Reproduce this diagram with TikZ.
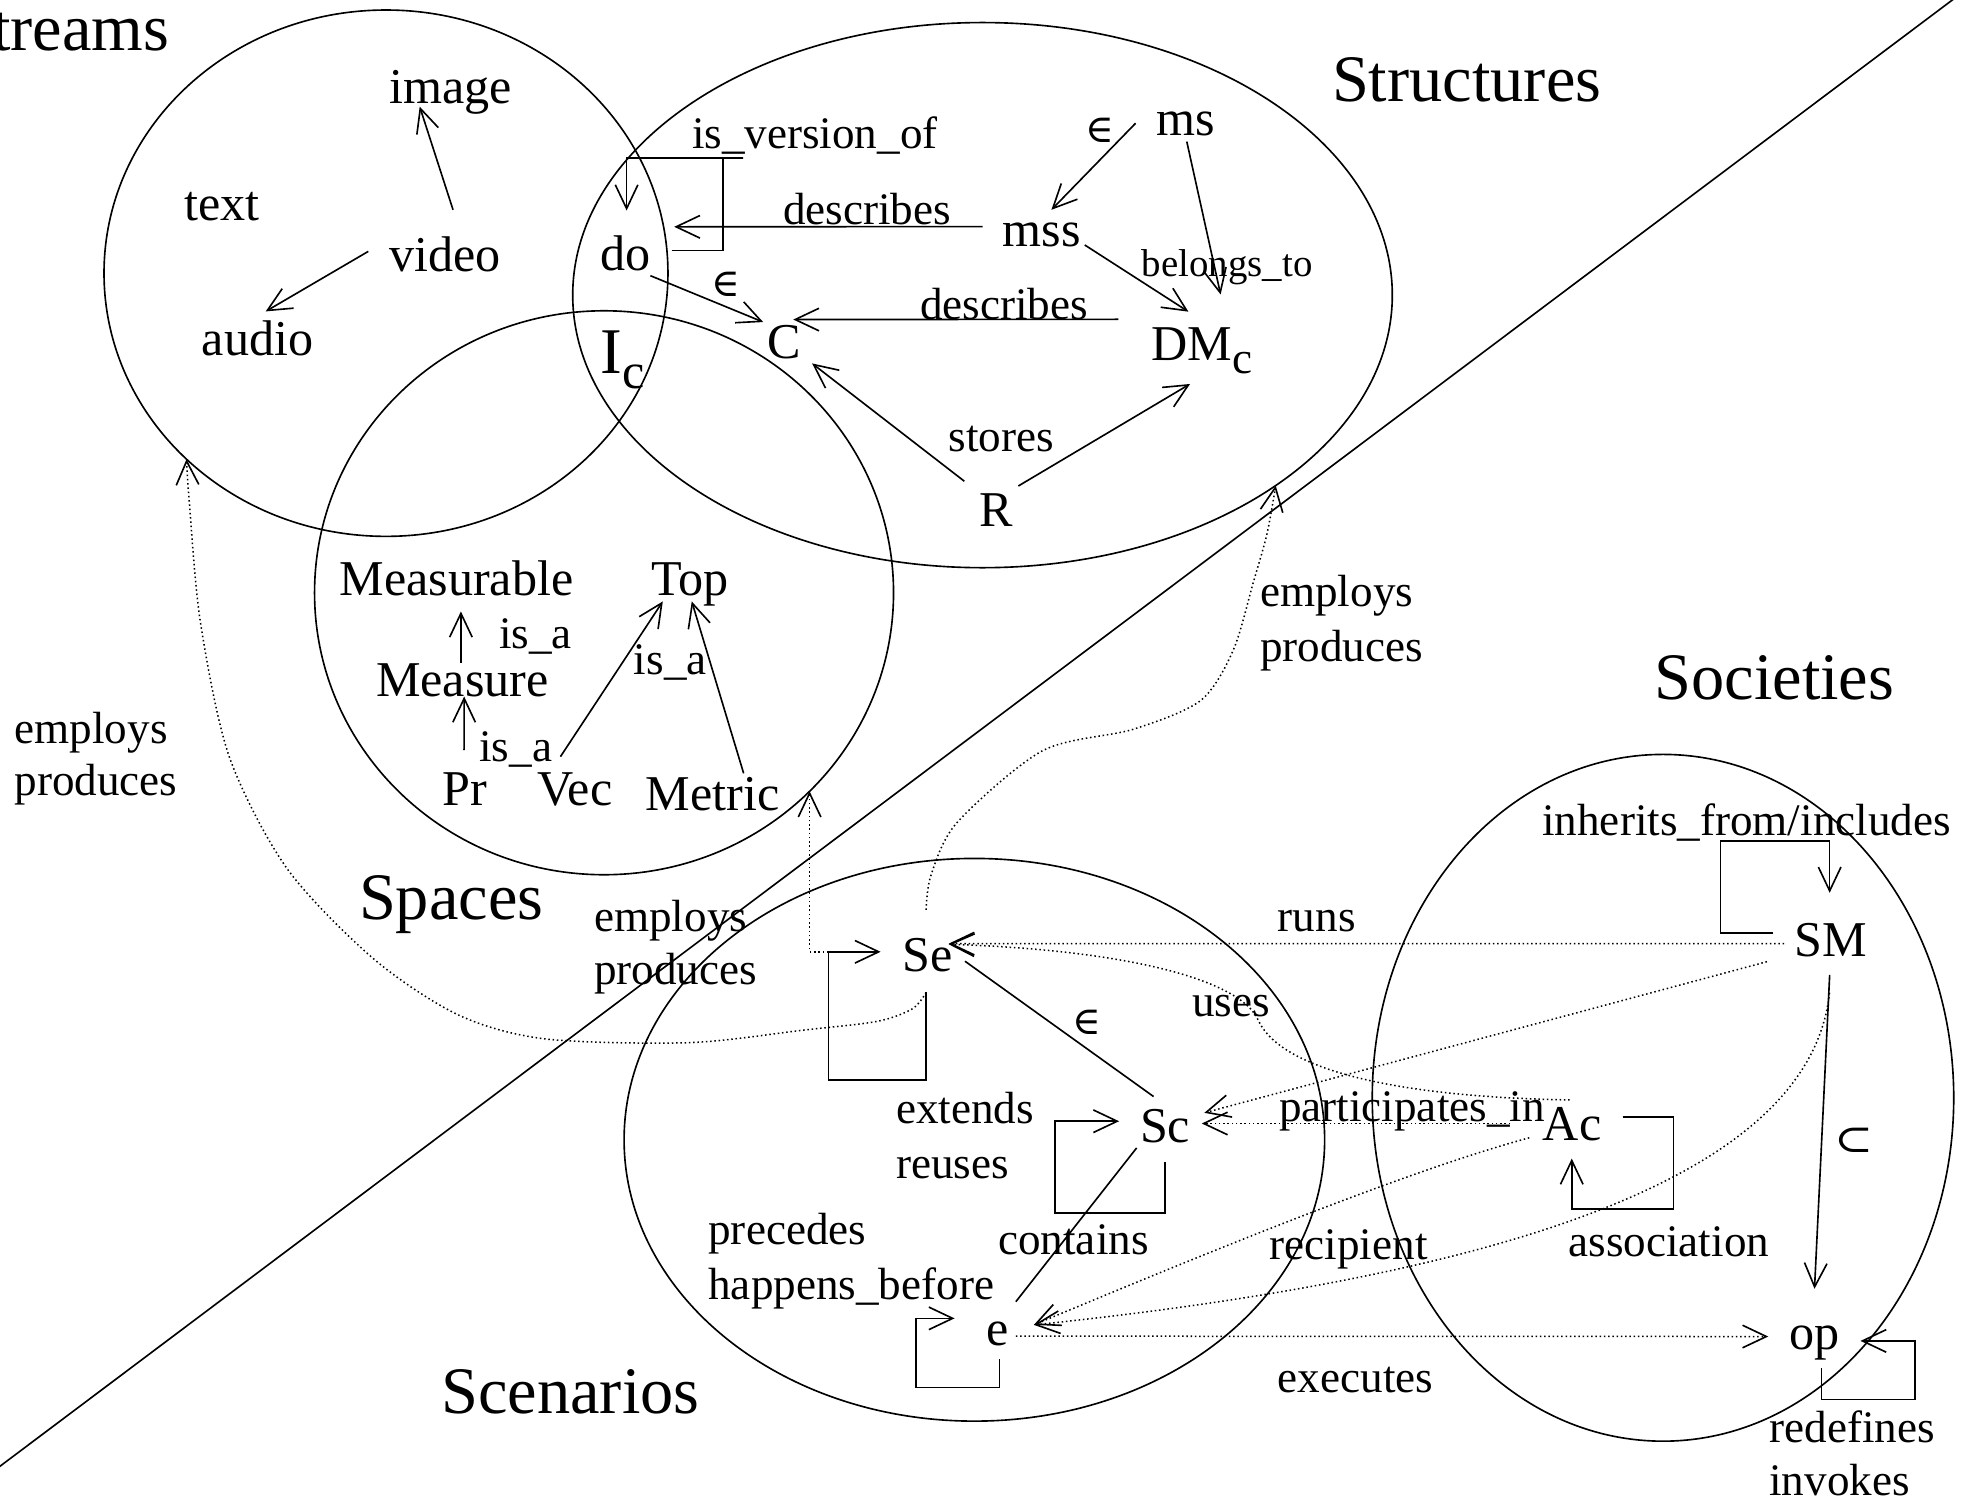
\documentclass[tikz,border=0pt]{standalone}
\usepackage{fontspec}
\setmainfont{Liberation Serif}
\newfontfamily\symfnt{DejaVu Serif}
\usetikzlibrary{arrows.meta,shapes.geometric}
\begin{document}
\begin{tikzpicture}[x=1pt,y=-1pt,
  nd/.style={anchor=base,inner sep=0pt,font=\fontsize{40}{48}\selectfont},
  lb/.style={anchor=base west,inner sep=0pt,font=\fontsize{36}{43}\selectfont},
  ttl/.style={anchor=base west,inner sep=0pt,font=\fontsize{53}{64}\selectfont},
  sym/.style={anchor=center,inner sep=0pt,font=\symfnt\fontsize{31}{31}\selectfont},
  region/.style={draw,ellipse,line width=1.3pt,inner sep=0pt,outer sep=0pt},
  ln/.style={line width=1.3pt},
  arr/.style={ln,-{Straight Barb[length=19pt,width=18pt]}},
  dot/.style={line width=1.2pt,dash pattern=on 1.2pt off 2.2pt},
  darr/.style={dot,-{Straight Barb[length=19pt,width=18pt,line width=1.3pt]}}]
\useasboundingbox (0,0) rectangle (1568,1206);

% regions
\node[region,minimum width=450pt,minimum height=420pt] (streams) at (308,218) {};
\node[region,minimum width=654pt,minimum height=435pt] (structures) at (784,235.5) {};
\node[region,minimum width=462pt,minimum height=450pt] (spaces) at (482,473) {};
\node[region,minimum width=559pt,minimum height=449pt] (scenarios) at (777.5,909.5) {};
\node[region,minimum width=464pt,minimum height=548pt] (societies) at (1327,876) {};
\draw[ln] (-10,1177.5) -- (1568,-7.6);

% titles
\node[ttl,anchor=base east] (tStreams) at (135.4,40) {Streams};
\node[ttl] (tStructures) at (1062.7,81.1) {Structures};
\node[ttl] (tSpaces) at (286.3,734) {Spaces};
\node[ttl] (tSocieties) at (1320,558) {Societies};
\node[ttl] (tScenarios) at (352,1128) {Scenarios};

% nodes
\node[nd] (image) at (359.8,82.5) {image};
\node[nd] (text) at (177.2,175.6) {text};
\node[nd] (video) at (355.3,216.8) {video};
\node[nd] (audio) at (205.6,283.3) {audio};
\node[nd] (do) at (499.4,215.5) {do};
\node[nd,font=\fontsize{52}{60}\selectfont] (Ic) at (497,298) {I\raisebox{-12pt}{\fontsize{40}{48}\selectfont c}};
\node[nd] (C) at (626,286) {C};
\node[nd] (ms) at (946.5,108.4) {ms};
\node[nd] (mss) at (831.3,197) {mss};
\node[nd] (DMc) at (959,288) {DM\raisebox{-10pt}{\fontsize{36}{44}\selectfont c}};
\node[nd] (R) at (795,420) {R};
\node[nd] (Measurable) at (364.3,474.8) {Measurable};
\node[nd] (Top) at (550.8,474.8) {Top};
\node[nd] (Measure) at (369,555.9) {Measure};
\node[nd] (Pr) at (370.9,642.4) {Pr};
\node[nd] (Vec) at (458.6,642.4) {Vec};
\node[nd] (Metric) at (568.5,646.4) {Metric};
\node[nd] (Se) at (740.3,775.5) {Se};
\node[nd] (Sc) at (929.7,912) {Sc};
\node[nd] (e) at (795.7,1073.7) {e};
\node[nd] (Ac) at (1254.5,910) {Ac};
\node[nd] (SM) at (1461,763.2) {SM};
\node[nd] (op) at (1448,1077) {op};

% edge labels
\node[lb] (lIsVersion) at (552,118.4) {is\_version\_of};
\node[lb] (lDescr1) at (624.8,179.5) {describes};
\node[lb] (lDescr2) at (734,255.3) {describes};
\node[lb,font=\fontsize{31}{37}\selectfont] (lBelongs) at (911,220.8) {belongs\_to};
\node[lb] (lStores) at (756.7,360.4) {stores};
\node[sym] (lIn1) at (878,104) {∈};
\node[sym] (lIn2) at (579.5,227) {∈};
\node[sym] (lIn3) at (867,816) {∈};
\node[sym] (lSub) at (1479.5,910) {\scalebox{1.2}[1]{⊂}};
\node[lb] (lIsA1) at (398.2,517.3) {is\_a};
\node[lb] (lIsA2) at (505.7,538.6) {is\_a};
\node[lb] (lIsA3) at (382.3,607.8) {is\_a};
\node[lb] (lEmpL1) at (11.5,593.5) {employs};
\node[lb] (lEmpL2) at (11.5,634.4) {produces};
\node[lb] (lEmpM1) at (474,743) {employs};
\node[lb] (lEmpM2) at (474,785.8) {produces};
\node[lb] (lEmpR1) at (1005.4,484) {employs};
\node[lb] (lEmpR2) at (1005.4,528) {produces};
\node[lb] (lExt1) at (714.9,896.7) {extends};
\node[lb] (lExt2) at (714.9,940.5) {reuses};
\node[lb] (lPre1) at (565.1,992.8) {precedes};
\node[lb] (lPre2) at (565.1,1036.6) {happens\_before};
\node[lb] (lContains) at (796.4,1001) {contains};
\node[lb] (lRuns) at (1019.5,743.4) {runs};
\node[lb] (lUses) at (951,811.1) {uses};
\node[lb] (lPart) at (1020.5,895) {participates\_in};
\node[lb] (lRecip) at (1013,1005) {recipient};
\node[lb] (lExec) at (1019.5,1111) {executes};
\node[lb] (lAssoc) at (1251.5,1003) {association};
\node[lb] (lInherit) at (1230.5,667) {inherits\_from/includes};
\node[lb] (lRedef) at (1411.7,1151) {redefines};
\node[lb] (lInvokes) at (1411.7,1193) {invokes};

% Streams connectors
\draw[arr] ([shift={(6.2,-49.4)}]video.base) -- ([shift={(-24.9,2.6)}]image.base);
\draw[arr] ([shift={(-61.4,-16.2)}]video.base) -- ([shift={(6.4,-34.8)}]audio.base);

% Structures connectors
\draw[arr] ([shift={(-40.3,-10.1)}]ms.base) -- ([shift={(7.7,-29.6)}]mss.base);
\draw[arr] ([shift={(0.5,4.6)}]ms.base) -- ([shift={(15,-53)}]DMc.base);
\draw[arr] ([shift={(34.3,-1.5)}]mss.base) -- ([shift={(-10.7,-39.3)}]DMc.base);
\draw[arr] ([shift={(-47.3,-16.2)}]mss.base) -- ([shift={(38.6,-34.5)}]do.base);
\draw[arr] ([shift={(36.6,-15.5)}]do.base) -| ([shift={(77.6,-89.5)}]do.base) -- ++(16,0) -| ([shift={(0.6,-47.5)}]do.base);
\draw[arr] ([shift={(19.6,4.5)}]do.base) -- ([shift={(-17,-29)}]C.base);
\draw[arr] ([shift={(-66.6,-33.2)}]DMc.base) -- ([shift={(7,-31)}]C.base);
\draw[arr] ([shift={(-25.5,-36)}]R.base) -- ([shift={(22,4)}]C.base);
\draw[arr] ([shift={(17.6,-32.2)}]R.base) -- ([shift={(-9.4,18.4)}]DMc.base);

% Spaces connectors
\draw[arr] ([shift={(-1.2,-26.7)}]Measure.base) -- ([shift={(3.5,13.1)}]Measurable.base);
\draw[arr] ([shift={(-0.6,-43.9)}]Pr.base) -- ([shift={(1.4,-0.1)}]Measure.base);
\draw[arr] ([shift={(-11.4,-38.6)}]Vec.base) -- ([shift={(-21.9,5.1)}]Top.base);
\draw[arr] ([shift={(24.9,-29.3)}]Metric.base) -- ([shift={(1.2,5.1)}]Top.base);

% Scenarios connectors
\draw[arr] ([shift={(-1.3,16.1)}]Se.base) |- ([shift={(-79.3,86.5)}]Se.base) |- ([shift={(-37.6,-16)}]Se.base);
\draw[arr] ([shift={(-0.2,15)}]Sc.base) |- ([shift={(-87.7,56)}]Sc.base) |- ([shift={(-36.7,-17.3)}]Sc.base);
\draw[arr] ([shift={(1.9,11)}]e.base) |- ([shift={(-64.7,33.6)}]e.base) |- ([shift={(-34,-21.7)}]e.base);
\draw[ln] ([shift={(29.7,-8.5)}]Se.base) -- ([shift={(-9.2,-37)}]Sc.base);
\draw[ln] ([shift={(-22.7,4)}]Sc.base) -- ([shift={(14.9,-35)}]e.base);

% Societies connectors
\draw[arr] ([shift={(-45.9,-18.7)}]SM.base) -| ([shift={(-88.2,-92.2)}]SM.base) -| ([shift={(-1,-50.8)}]SM.base);
\draw[arr] ([shift={(-1,14.7)}]SM.base) -- ([shift={(-0.1,-48.6)}]op.base);
\draw[arr] ([shift={(40.3,-18.7)}]Ac.base) -| ([shift={(81,54.6)}]Ac.base) -| ([shift={(-0.3,14.5)}]Ac.base);
\draw[arr] ([shift={(5.4,14.9)}]op.base) |- ([shift={(79.9,39.7)}]op.base) |- ([shift={(36.6,-7)}]op.base);

% dotted cross connectors
\draw[darr] ([shift={(-37.4,-10.3)}]SM.base) -- ([shift={(16.7,-22.5)}]Se.base);
\draw[darr] ([shift={(-2,-32.3)}]Ac.base) .. controls (1100,875) and (1020,850) .. (1004,814) .. controls (990,782) and (900,758) .. ([shift={(16.7,-22)}]Se.base);
\draw[darr] ([shift={(-51.1,4.2)}]SM.base) -- ([shift={(31.3,-24)}]Sc.base);
\draw[darr] ([shift={(-49.5,-13.5)}]Ac.base) -- ([shift={(29.3,-15.5)}]Sc.base);
\draw[darr] ([shift={(-34.2,-2.1)}]Ac.base) .. controls (1120,935) and (950,1005) .. ([shift={(29.3,-16.5)}]e.base);
\draw[darr] ([shift={(-1.1,29)}]SM.base) .. controls (1445,930) and (1230,1015) .. ([shift={(29.3,-16.5)}]e.base);
\draw[darr] ([shift={(14.9,-7.5)}]e.base) -- ([shift={(-37,-10.5)}]op.base);

% employs / produces
\draw[darr] plot[smooth] coordinates {([shift={(-1.3,16.5)}]Se.base) (728,805) (700,815) (641,822) (550,832) (435,829) (366,810) (298,765) (229,693) (183,604) (160,497) (151,400) (streams.223.5)};
\draw[darr] ([shift={(-79.3,-16)}]Se.base) -| (spaces.-44.5);
\draw[darr] plot[smooth] coordinates {([shift={(-1.3,-49.5)}]Se.base) (743,698) (764,656) (832,599) (904,582) (958,559) (984,519) (1000,465) (1011,426) (structures.-33.8)};
\end{tikzpicture}
\end{document}
